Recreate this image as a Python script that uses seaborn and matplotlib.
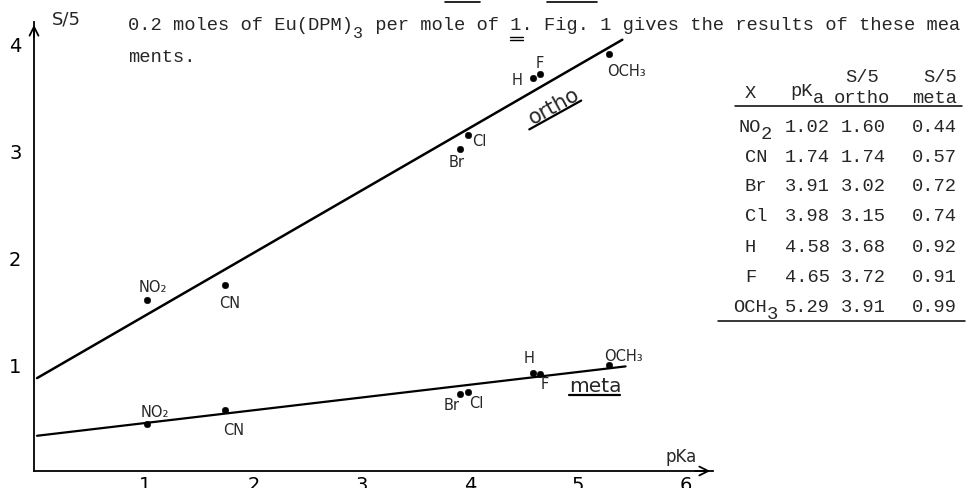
import matplotlib
matplotlib.use('Agg')
import matplotlib.pyplot as plt
import seaborn as sns
import pandas as pd
from matplotlib.lines import Line2D

# Data (table in the figure)
substituents = ['NO₂', 'CN', 'Br', 'Cl', 'H', 'F', 'OCH₃']
pka = [1.02, 1.74, 3.91, 3.98, 4.58, 4.65, 5.29]
ratio_ortho = [1.60, 1.74, 3.02, 3.15, 3.68, 3.72, 3.91]
ratio_meta = [0.44, 0.57, 0.72, 0.74, 0.92, 0.91, 0.99]

# hand drawn lines, end points
ortho_line_x = [0.0, 5.41]
ortho_line_y = [0.87, 4.04]
meta_line_x = [0.0, 5.44]
meta_line_y = [0.33, 0.98]

# label centres next to the points
ortho_label_x = [1.07, 1.78, 3.88, 4.09, 4.44, 4.65, 5.45]
ortho_label_y = [1.73, 1.58, 2.90, 3.10, 3.67, 3.83, 3.75]
meta_label_x = [1.085, 1.82, 3.83, 4.06, 4.55, 4.69, 5.42]
meta_label_y = [0.56, 0.39, 0.62, 0.64, 1.06, 0.82, 1.08]

x_ticks = [1, 2, 3, 4, 5, 6]
y_ticks = [1, 2, 3, 4]

# table columns
table_x_main = ['NO', 'CN', 'Br', 'Cl', 'H', 'F', 'OCH']
table_x_sub = ['2', '', '', '', '', '', '3']
table_x_left = [738, 745, 745, 745, 745, 745, 733]

W, H = 969, 489
MONO = ['Liberation Mono', 'DejaVu Sans Mono']


def fx(x):
    return x / W


def fy(y):
    return 1 - y / H


sns.set_style('white')
plt.rcParams['font.family'] = ['DejaVu Sans']

fig = plt.figure(figsize=(W / 100, H / 100), dpi=100)
ax = fig.add_axes([34 / W, 17 / H, 679 / W, 449 / H])

points = pd.DataFrame({
    'pKa': pka + pka,
    'S/5': ratio_ortho + ratio_meta,
    'series': ['ortho'] * len(pka) + ['meta'] * len(pka),
})

sns.lineplot(x=ortho_line_x, y=ortho_line_y, color='black', linewidth=1.8, ax=ax)
sns.lineplot(x=meta_line_x, y=meta_line_y, color='black', linewidth=1.6, ax=ax)
sns.scatterplot(data=points, x='pKa', y='S/5', color='black', s=22,
                edgecolor='black', legend=False, ax=ax, zorder=3)

for name, lx, ly in zip(substituents, ortho_label_x, ortho_label_y):
    ax.text(lx, ly, name, fontsize=10.5, ha='center', va='center')
for name, lx, ly in zip(substituents, meta_label_x, meta_label_y):
    ax.text(lx, ly, name, fontsize=10.5, ha='center', va='center')

# series names, underlined
ax.text(4.78, 3.43, 'ortho', fontsize=15, rotation=29, ha='center', va='center',
        rotation_mode='anchor')
ax.plot([4.55, 5.03], [3.20, 3.47], color='black', lw=1.6)
ax.text(5.16, 0.80, 'meta', fontsize=14.5, ha='center', va='center')
ax.plot([4.92, 5.39], [0.715, 0.715], color='black', lw=1.6)

ax.set_xlim(-0.028, 6.248)
ax.set_ylim(0, 4.206)
ax.set_xticks(x_ticks)
ax.set_yticks(y_ticks)
ax.set_xlabel('')
ax.set_ylabel('')
ax.tick_params(axis='both', direction='in', length=5, width=1, labelsize=14, colors='black')
ax.tick_params(axis='y', pad=9)
ax.tick_params(axis='x', pad=3)
for side in ['top', 'right']:
    ax.spines[side].set_visible(False)
for side in ['left', 'bottom']:
    ax.spines[side].set_color('black')
    ax.spines[side].set_linewidth(1.3)

# axis arrows
ax.annotate('', xy=(0, 1.0), xycoords='axes fraction', xytext=(0, 0.96),
            textcoords='axes fraction',
            arrowprops=dict(arrowstyle='->', lw=1.3, color='black', mutation_scale=16))
ax.annotate('', xy=(1.0, 0), xycoords='axes fraction', xytext=(0.97, 0),
            textcoords='axes fraction',
            arrowprops=dict(arrowstyle='->', lw=1.3, color='black', mutation_scale=16))

fig.text(fx(52), fy(20), 'S/5', fontsize=13, ha='left', va='center')
ax.text(5.95, 0.14, 'pKa', fontsize=12, ha='center', va='center')

# typed text above the plot
fig.text(fx(128), fy(26), '0.2 moles of Eu(DPM)', family=MONO, fontsize=13.5,
         ha='left', va='center')
fig.text(fx(353), fy(33), '3', family=MONO, fontsize=12, ha='left', va='center')
fig.text(fx(364), fy(26), ' per mole of 1. Fig. 1 gives the results of these mea',
         family=MONO, fontsize=13.5, ha='left', va='center')
fig.text(fx(128), fy(58), 'ments.', family=MONO, fontsize=13.5, ha='left', va='center')
fig.add_artist(Line2D([fx(445), fx(480)], [fy(3), fy(3)], color='black', lw=1.2))
fig.add_artist(Line2D([fx(547), fx(597)], [fy(3), fy(3)], color='black', lw=1.2))
# double underline under the compound number
fig.add_artist(Line2D([fx(510), fx(523)], [fy(38), fy(38)], color='black', lw=1))
fig.add_artist(Line2D([fx(510), fx(523)], [fy(41), fy(41)], color='black', lw=1))

# table on the right
fig.text(fx(745), fy(94), 'X', family=MONO, fontsize=13.5, ha='left', va='center')
fig.text(fx(790), fy(92), 'pK', family=MONO, fontsize=13.5, ha='left', va='center')
fig.text(fx(813), fy(99), 'a', family=MONO, fontsize=13.5, ha='left', va='center')
fig.text(fx(845), fy(77), 'S/5', family=MONO, fontsize=13.5, ha='left', va='center')
fig.text(fx(834), fy(99), 'ortho', family=MONO, fontsize=13.5, ha='left', va='center')
fig.text(fx(923), fy(77), 'S/5', family=MONO, fontsize=13.5, ha='left', va='center')
fig.text(fx(912), fy(99), 'meta', family=MONO, fontsize=13.5, ha='left', va='center')
fig.add_artist(Line2D([fx(735), fx(962)], [fy(107), fy(107)], color='black', lw=1.1))

for i in range(len(pka)):
    y = 127 + 30 * i
    fig.text(fx(table_x_left[i]), fy(y), table_x_main[i], family=MONO, fontsize=13.5,
             ha='left', va='center')
    if table_x_sub[i]:
        sub_x = table_x_left[i] + 11.27 * len(table_x_main[i])
        fig.text(fx(sub_x), fy(y + 8), table_x_sub[i], family=MONO, fontsize=13.5,
                 ha='left', va='center')
    fig.text(fx(785), fy(y), f'{pka[i]:.2f}', family=MONO, fontsize=13.5,
             ha='left', va='center')
    fig.text(fx(841), fy(y), f'{ratio_ortho[i]:.2f}', family=MONO, fontsize=13.5,
             ha='left', va='center')
    fig.text(fx(912), fy(y), f'{ratio_meta[i]:.2f}', family=MONO, fontsize=13.5,
             ha='left', va='center')
fig.add_artist(Line2D([fx(718), fx(965)], [fy(322), fy(322)], color='black', lw=1.1))

fig.savefig('out.png', dpi=100)
